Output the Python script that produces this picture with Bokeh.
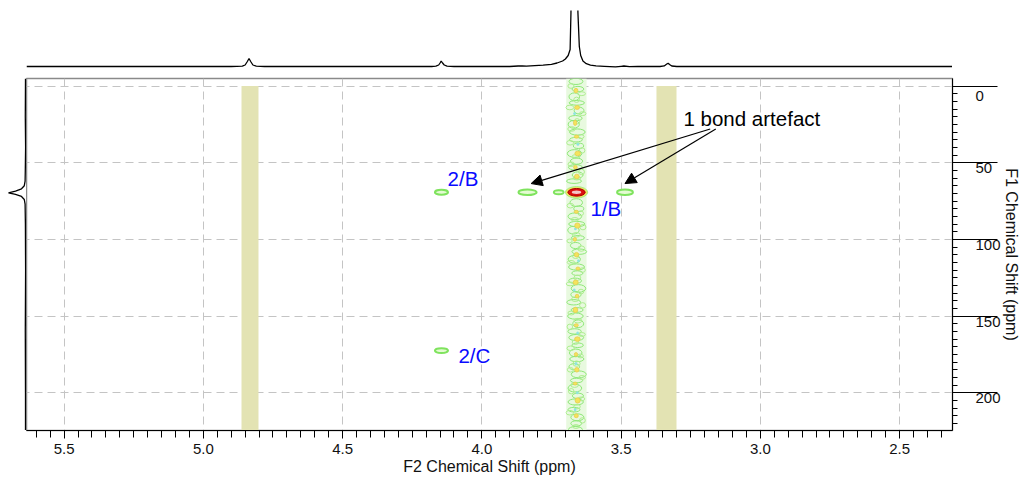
from bokeh.plotting import figure
from bokeh.layouts import column, row
from bokeh.models import (Range1d, Arrow, NormalHead, ColumnDataSource, SingleIntervalTicker,
                          PrintfTickFormatter, CustomJSTickFormatter)
from bokeh.embed import file_html
from bokeh.resources import INLINE
from bokeh.core.properties import value

FONT = "Liberation Sans"

# ---------------- data ----------------
f2_start, f2_end = 5.635, 2.31
f1_start, f1_end = 224.6, -4.9

# 1D proton trace (top)
top_ppm = [5.635, 4.90, 4.860, 4.850, 4.842, 4.836, 4.830, 4.822, 4.810, 4.78,
           4.18, 4.165, 4.155, 4.150, 4.146, 4.141, 4.135, 4.125, 4.10,
           3.90, 3.87, 3.855, 3.84, 3.81, 3.78, 3.75, 3.73, 3.71, 3.70, 3.69, 3.683,
           3.680, 3.675, 3.668, 3.660, 3.655, 3.650, 3.645, 3.637, 3.625, 3.61, 3.59,
           3.56, 3.52, 3.50, 3.49, 3.47, 3.44, 3.36, 3.345, 3.336, 3.331, 3.326, 3.318,
           3.30, 2.31]
top_int = [0, 0, 0.3, 1.5, 5, 8, 5, 1.5, 0.3, 0,
           0, 0.3, 1.5, 3.5, 5.5, 3.5, 1.5, 0.3, 0,
           0, 0.5, 0.7, 0.3, 0.8, 1.3, 2.2, 3.5, 5.5, 7.5, 11, 17,
           54, 150, 500, 150, 54, 20, 11, 5.5, 2.8, 1.4, 0.6,
           0.2, -0.4, 0.2, 0.5, -0.2, 0, 0, 0.6, 2.5, 3.2, 2, 0.5,
           0, 0]

# 1D carbon trace (left)
left_f1 = [-4.9, 20, 40, 55, 62, 65, 67, 68.5, 69.6, 70.7, 72, 74, 77, 90, 120, 160, 200, 224.6]
left_int = [0, 0.2, -0.1, 0.2, 0.4, 1.2, 4, 10, 17, 10, 4, 1.2, 0.4, 0.1, -0.1, 0.2, 0, 0]

# excluded (solvent) bands
band_left = [4.863, 3.373]
band_right = [4.802, 3.301]
band_top = [0, 0]
band_bottom = [224.6, 224.6]

# cross peaks
peak_f2 = [4.145, 3.836, 3.724, 3.486, 4.145]
peak_f1 = [69.3, 69.3, 69.3, 69.3, 172.5]
peak_w = [0.047, 0.065, 0.035, 0.057, 0.047]
peak_h = [3.2, 3.6, 2.6, 3.6, 3.2]

main_f2 = [3.660]
main_f1 = [69.3]

# t1-noise ridge of the strong signal
ridge_left = [3.697]
ridge_right = [3.624]
noise_f1 = [-3, 2, 7, 11, 16, 21, 25, 30, 35, 39, 44, 49, 53, 58, 62, 76, 80, 85, 90, 94, 99,
            104, 108, 113, 118, 122, 127, 132, 136, 141, 146, 150, 155, 160, 164, 169, 174,
            178, 183, 188, 192, 197, 202, 206, 211, 216, 220, 224]
noise_f2 = [3.662, 3.655, 3.668, 3.659, 3.651, 3.664, 3.670, 3.657, 3.662, 3.653, 3.667, 3.660,
            3.664, 3.656, 3.669, 3.661, 3.652, 3.666, 3.659, 3.671, 3.655, 3.663, 3.650, 3.668,
            3.660, 3.657, 3.665, 3.653, 3.662, 3.670, 3.658, 3.664, 3.654, 3.667, 3.661, 3.656,
            3.663, 3.659, 3.668, 3.652, 3.660, 3.666, 3.655, 3.663, 3.669, 3.657, 3.661, 3.664]
noise_w = [0.050, 0.042, 0.038, 0.055, 0.035, 0.048, 0.040, 0.056, 0.046, 0.037, 0.052, 0.044,
           0.050, 0.039, 0.054, 0.045, 0.036, 0.049, 0.058, 0.041, 0.047, 0.038, 0.053, 0.044,
           0.057, 0.040, 0.046, 0.052, 0.037, 0.050, 0.043, 0.056, 0.039, 0.048, 0.053, 0.041,
           0.045, 0.051, 0.038, 0.054, 0.044, 0.049, 0.040, 0.055, 0.043, 0.047, 0.039, 0.050]
noise_h = [4, 3.5, 5, 3, 4.5, 3.5, 5, 4, 3, 3.5, 5, 4, 3.5, 4, 3, 5, 3.5, 4.5, 3.5, 5, 3, 4,
           3.5, 5, 4, 3, 3.5, 5, 4, 3.5, 3, 4, 5, 3.5, 4, 3, 5, 3.5, 4, 4.5, 3, 5, 3.5, 4, 3, 4.5,
           3.5, 4]
noise2_f1 = [0, 5, 9, 14, 18, 23, 28, 33, 37, 42, 46, 51, 56, 60, 78, 83, 87, 92, 97, 101, 106,
             111, 115, 120, 125, 129, 134, 139, 143, 148, 153, 157, 162, 167, 171, 176, 181,
             185, 190, 195, 199, 204, 209, 213, 218, 222]
noise2_f2 = [3.680, 3.641, 3.660, 3.684, 3.638, 3.658, 3.678, 3.644, 3.683, 3.640, 3.662, 3.679,
             3.642, 3.659, 3.682, 3.645, 3.666, 3.637, 3.661, 3.685, 3.643, 3.663, 3.680, 3.639,
             3.657, 3.683, 3.644, 3.665, 3.638, 3.679, 3.655, 3.684, 3.641, 3.664, 3.681, 3.646,
             3.660, 3.682, 3.640, 3.667, 3.679, 3.643, 3.658, 3.684, 3.639, 3.662]
noise2_w = [0.022, 0.026, 0.020, 0.028, 0.024, 0.019, 0.027, 0.022, 0.025, 0.020, 0.029, 0.023,
            0.021, 0.027, 0.024, 0.020, 0.026, 0.022, 0.028, 0.019, 0.025, 0.023, 0.027, 0.021,
            0.024, 0.028, 0.020, 0.026, 0.022, 0.024, 0.028, 0.020, 0.025, 0.023, 0.027, 0.021,
            0.026, 0.022, 0.024, 0.028, 0.020, 0.025, 0.023, 0.027, 0.021, 0.024]
noise2_h = [3, 2.5, 3.5, 3, 2.5, 3.5, 3, 2.5, 3, 3.5, 2.5, 3, 3.5, 2.5, 3, 3, 2.5, 3.5, 3, 2.5,
            3.5, 3, 2.5, 3, 3.5, 2.5, 3, 3, 3.5, 2.5, 3, 3.5, 2.5, 3, 3, 2.5, 3.5, 3, 2.5, 3, 3.5,
            2.5, 3, 3, 3.5, 2.5]
hot_f1 = [3, 14, 24, 33, 44, 53, 59, 82, 91, 100, 110, 119, 128, 137, 146, 156, 165, 175, 185,
          194, 205, 215]
hot_f2 = [3.662, 3.658, 3.665, 3.660, 3.656, 3.664, 3.659, 3.661, 3.657, 3.666, 3.660, 3.655,
          3.663, 3.658, 3.664, 3.661, 3.657, 3.662, 3.659, 3.665, 3.656, 3.661]
hot_w = [0.014, 0.018, 0.012, 0.016, 0.020, 0.013, 0.017, 0.015, 0.019, 0.012, 0.016, 0.014,
         0.018, 0.013, 0.017, 0.015, 0.020, 0.012, 0.016, 0.014, 0.018, 0.015]
hot_h = [3, 2.5, 3.5, 2, 3, 2.5, 3, 2, 3.5, 2.5, 3, 2, 3, 2.5, 3.5, 2, 3, 2.5, 3, 2, 3.5, 2.5]
cyan_f1 = [18, 38, 93, 114, 133, 161, 181, 200, 211]
cyan_f2 = [3.667, 3.655, 3.664, 3.653, 3.668, 3.656, 3.662, 3.657, 3.665]

# annotations
label_text = ["2/B", "1/B", "2/C"]
label_f2 = [4.123, 3.610, 4.084]
label_f1 = [60, 80, 176]
note_text = ["1 bond artefact"]
note_f2 = [3.276]
note_f1 = [20.9]
arrow_f2_start = [3.180, 3.160]
arrow_f1_start = [28, 28]
arrow_f2_end = [3.823, 3.486]
arrow_f1_end = [63.6, 63.6]

# ---------------- figures ----------------
xr = Range1d(f2_start, f2_end)
yr = Range1d(f1_start, f1_end)

FW, FH = 926, 352
LEFTW = 26
TOPH = 66


def bare(fig):
    fig.xaxis.visible = False
    fig.yaxis.visible = False
    fig.xgrid.visible = False
    fig.ygrid.visible = False
    fig.outline_line_color = None
    fig.background_fill_color = "white"
    fig.border_fill_color = "white"


top = figure(frame_width=FW, frame_height=TOPH, x_range=xr, y_range=Range1d(-10, 56),
             output_backend="svg", toolbar_location=None, min_border=0,
             min_border_left=LEFTW, min_border_top=10)
bare(top)
top.line(top_ppm, top_int, line_color="black", line_width=1.3)

left = figure(frame_width=LEFTW, frame_height=FH, x_range=Range1d(25, -1), y_range=yr,
              output_backend="svg", toolbar_location=None, min_border=0, min_border_top=2)
bare(left)
left.line(left_int, left_f1, line_color="black", line_width=1.3)

p = figure(frame_width=FW, frame_height=FH, x_range=xr, y_range=yr,
           output_backend="svg", toolbar_location=None, min_border=0, min_border_top=2,
           y_axis_location="right", x_axis_label="F2 Chemical Shift (ppm)",
           y_axis_label="F1 Chemical Shift (ppm)")
p.background_fill_color = "white"
p.border_fill_color = "white"
p.outline_line_color = "#8a8a8a"
p.outline_line_width = 1.5

for g in (p.xgrid[0], p.ygrid[0]):
    g.grid_line_color = "#c4c4c4"
    g.grid_line_dash = "8 5"
    g.grid_line_width = 1

xa = p.xaxis[0]
xa.ticker = SingleIntervalTicker(interval=0.5, num_minor_ticks=10)
xa.formatter = PrintfTickFormatter(format="%.1f")
ya = p.yaxis[0]
ya.ticker = SingleIntervalTicker(interval=50, num_minor_ticks=10)
ya.formatter = CustomJSTickFormatter(code="return '\\n' + tick.toFixed(0)")
p.xgrid[0].ticker = xa.ticker
p.ygrid[0].ticker = ya.ticker

for ax in (xa, ya):
    ax.axis_line_color = "black"
    ax.axis_line_width = 1
    ax.major_tick_line_color = "black"
    ax.minor_tick_line_color = "black"
    ax.major_tick_in = 0
    ax.minor_tick_in = 0
    ax.major_label_text_font = FONT
    ax.major_label_text_font_size = "15px"
    ax.major_label_text_color = "#111111"
    ax.axis_label_text_font = FONT
    ax.axis_label_text_font_size = "16px"
    ax.axis_label_text_font_style = "normal"
    ax.axis_label_text_color = "#111111"

xa.major_tick_out = 8
xa.minor_tick_out = 7
xa.major_label_standoff = 5
xa.axis_label_standoff = 1
ya.major_tick_out = 45
ya.minor_tick_out = 5
ya.major_label_standoff = -22
ya.major_label_text_line_height = 0.6
ya.axis_label_standoff = -1

# excluded bands
p.quad(left=band_left, right=band_right, top=band_top, bottom=band_bottom,
       fill_color="#e3e3b3", line_color=None)

# noise ridge
p.quad(left=ridge_left, right=ridge_right, top=[f1_end], bottom=[f1_start],
       fill_color="#e8f9df", line_color=None)
p.ellipse(x=noise_f2, y=noise_f1, width=noise_w, height=noise_h,
          fill_color=None, line_color="#8ee878", line_width=1)
p.ellipse(x=noise2_f2, y=noise2_f1, width=noise2_w, height=noise2_h,
          fill_color=None, line_color="#aeee90", line_width=1)
p.ellipse(x=cyan_f2, y=cyan_f1, width=0.010, height=2,
          fill_color="#8fe4e0", line_color=None)
p.ellipse(x=hot_f2, y=hot_f1, width=hot_w, height=hot_h,
          fill_color="#f3e45c", line_color="#e8cc50", line_width=0.8)

# cross peaks
p.ellipse(x=peak_f2, y=peak_f1, width=peak_w, height=peak_h,
          fill_color="#e4fbd2", line_color="#7fe35e", line_width=2)
p.ellipse(x=main_f2, y=main_f1, width=0.080, height=7.5,
          fill_color="#f1e860", line_color="#a8ec88", line_width=1)
p.ellipse(x=main_f2, y=main_f1, width=0.062, height=5.0,
          fill_color="#dd1010", line_color="#a80000", line_width=1)
p.ellipse(x=main_f2, y=main_f1, width=0.034, height=2.2,
          fill_color="#f4c6c6", line_color=None)

# labels
p.text(x=label_f2, y=label_f1, text=label_text, text_color="#0a0aff",
       text_font=value(FONT), text_font_size="20.5px", text_baseline="middle", text_align="left")
p.text(x=note_f2, y=note_f1, text=note_text, text_color="black",
       text_font=value(FONT), text_font_size="20.5px", text_baseline="middle", text_align="left")

arrow_src = ColumnDataSource(dict(x0=arrow_f2_start, y0=arrow_f1_start,
                                  x1=arrow_f2_end, y1=arrow_f1_end))
p.add_layout(Arrow(end=NormalHead(size=11, fill_color="black", line_color="black"),
                   x_start="x0", y_start="y0", x_end="x1", y_end="y1", source=arrow_src,
                   line_color="black", line_width=1.2))

layout = column(top, row(left, p, spacing=0), spacing=0)

open("out.html", "w").write(file_html(layout, INLINE))
